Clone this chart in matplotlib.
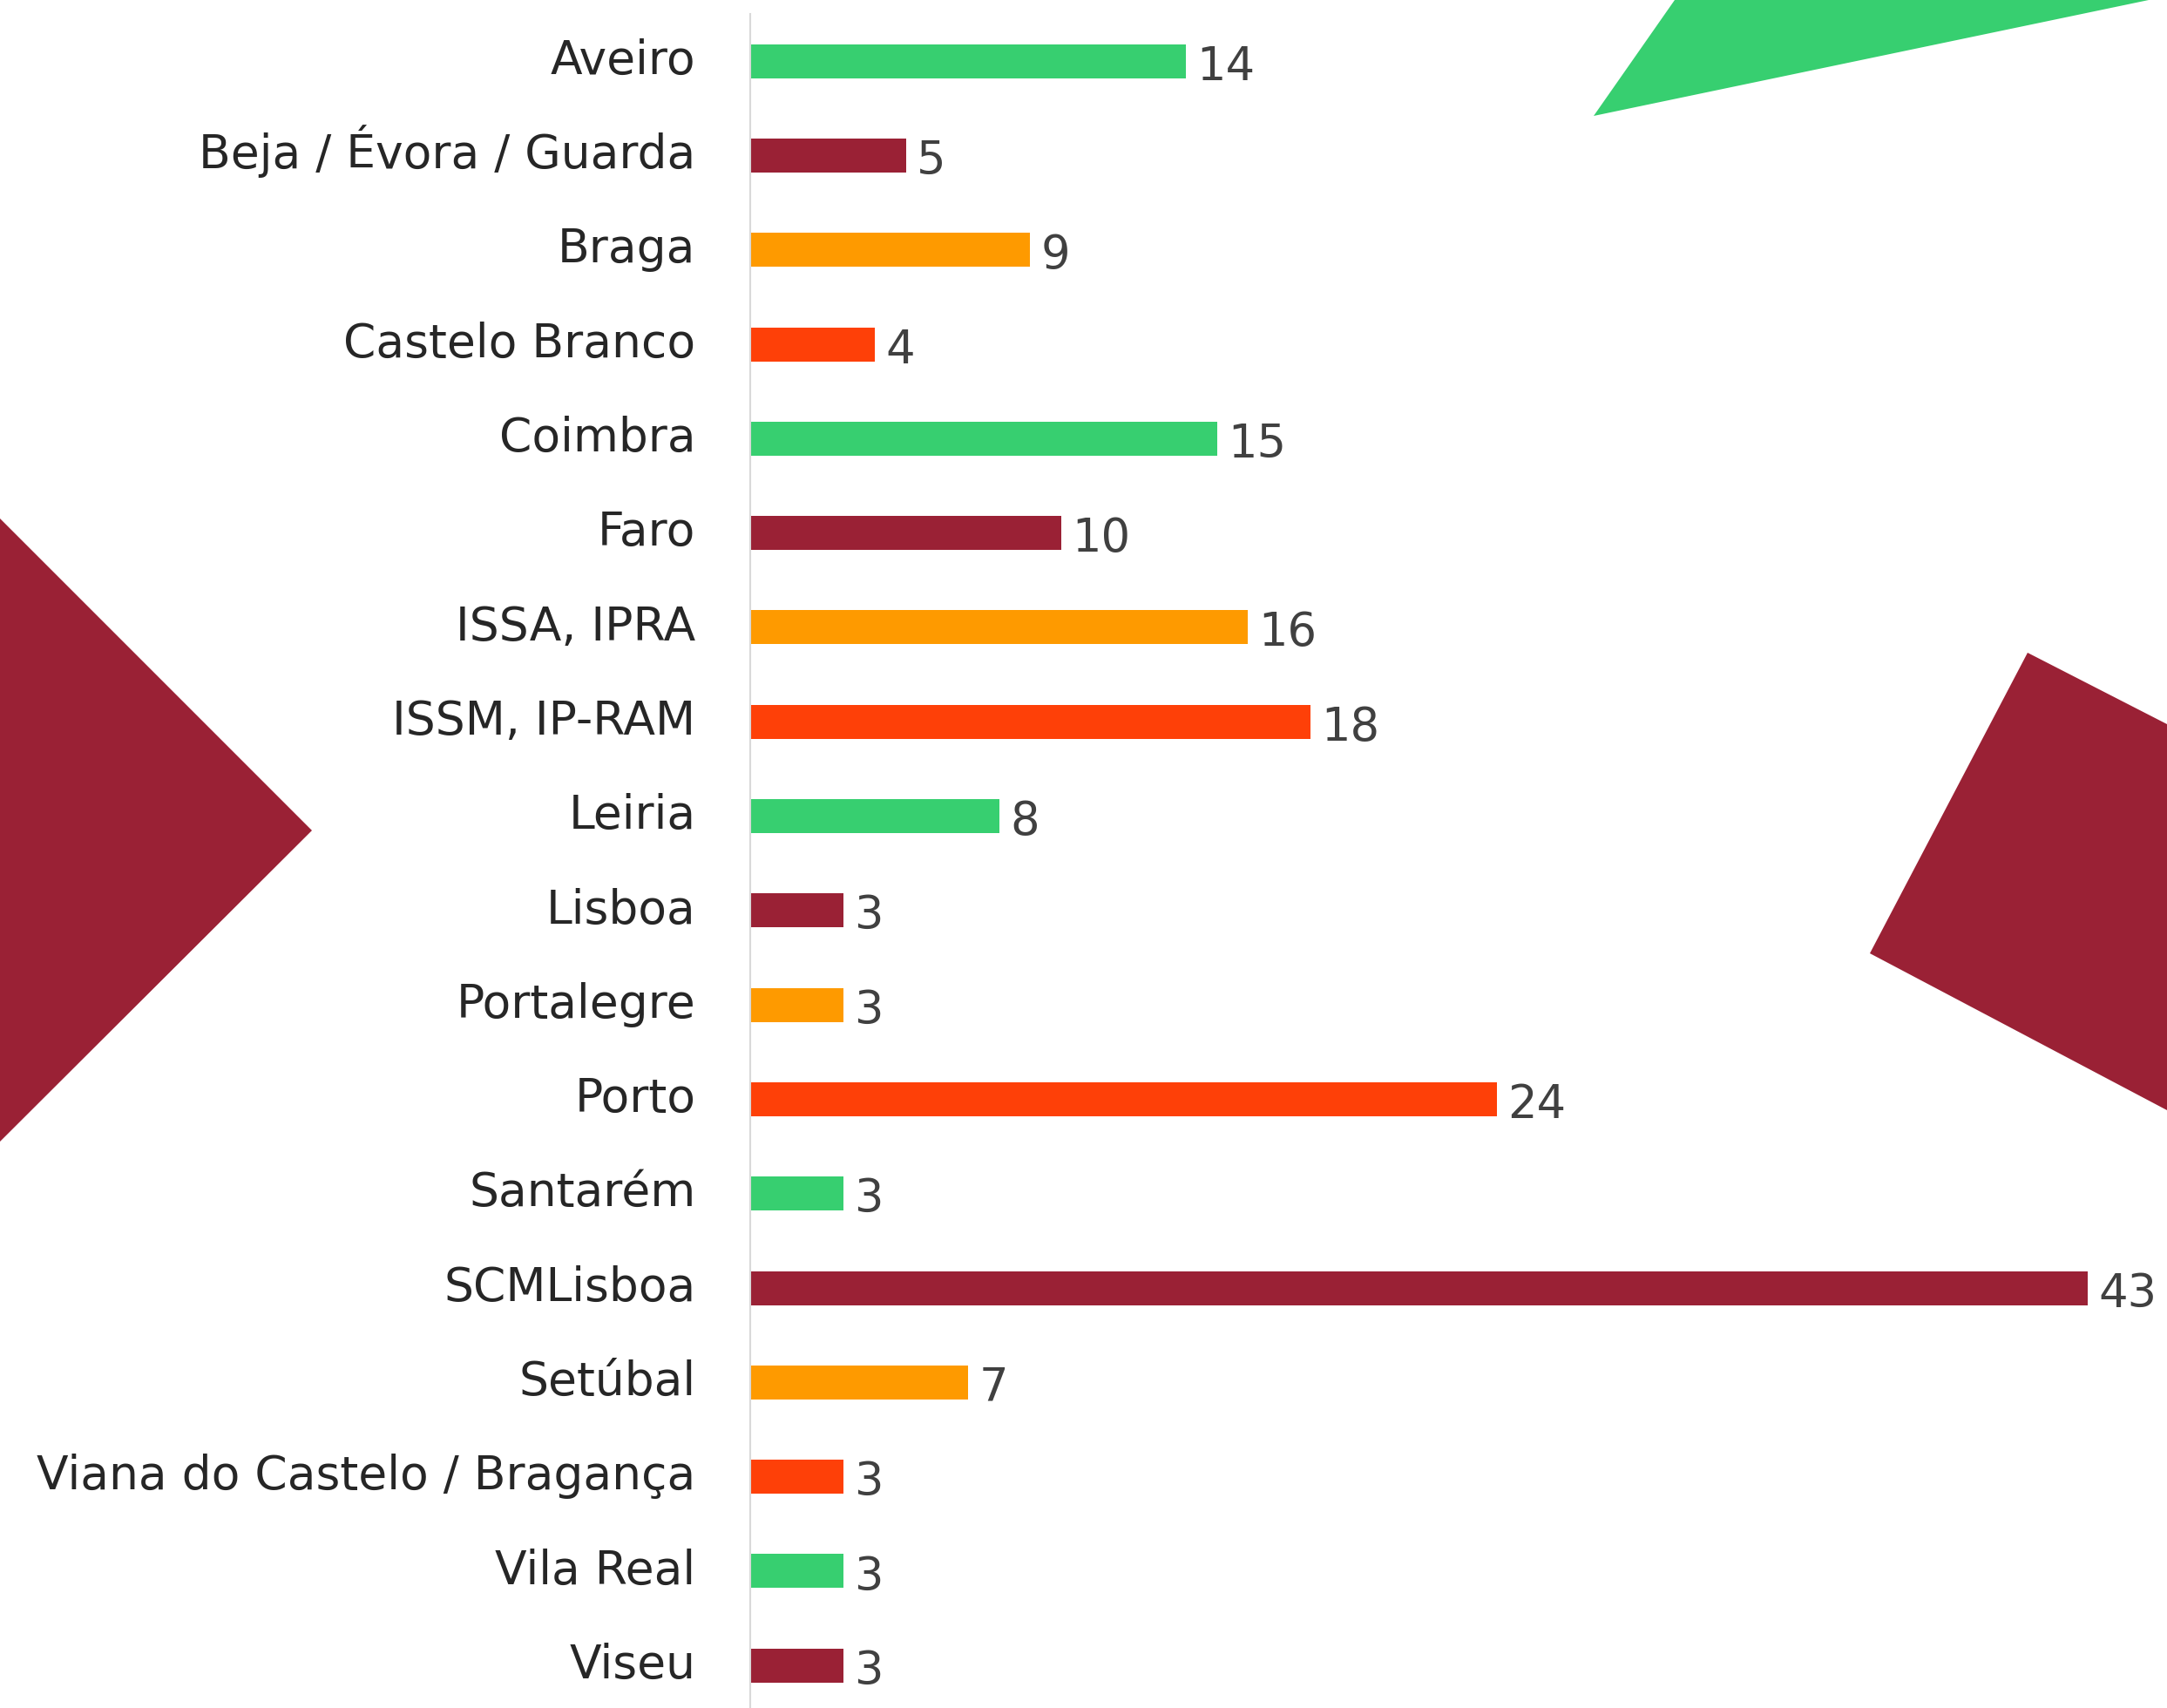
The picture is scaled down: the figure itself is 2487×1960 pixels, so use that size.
import matplotlib.pyplot as plt
from matplotlib.patches import Polygon

# --- data ---
categories = ["Aveiro", "Beja / Évora / Guarda", "Braga", "Castelo Branco", "Coimbra",
              "Faro", "ISSA, IPRA", "ISSM, IP-RAM", "Leiria", "Lisboa", "Portalegre",
              "Porto", "Santarém", "SCMLisboa", "Setúbal",
              "Viana do Castelo / Bragança", "Vila Real", "Viseu"]
values = [14, 5, 9, 4, 15, 10, 16, 18, 8, 3, 3, 24, 3, 43, 7, 3, 3, 3]

GREEN = "#37CF70"
MAROON = "#9A2135"
ORANGE = "#FE9A00"
RED = "#FE4008"
palette = [GREEN, MAROON, ORANGE, RED]
colors = [palette[i % 4] for i in range(len(values))]

W, H = 2487, 1960
fig = plt.figure(figsize=(W / 100, H / 100), dpi=100)
fig.patch.set_facecolor("white")

# background decoration, in pixel coordinates
bg = fig.add_axes([0, 0, 1, 1])
bg.set_xlim(0, W)
bg.set_ylim(H, 0)
bg.axis("off")
bg.add_patch(Polygon([(1829, 133), (1922, 0), (2466, 0)], closed=True, color=GREEN, lw=0))
bg.add_patch(Polygon([(0, 595), (358, 953), (0, 1310)], closed=True, color=MAROON, lw=0))
bg.add_patch(Polygon([(2327, 749), (2487, 831), (2487, 1274), (2146, 1094)], closed=True, color=MAROON, lw=0))

# --- bar chart ---
ax = fig.add_axes([861 / W, 0, (45 * 35.7) / W, 1944 / H])
ax.patch.set_alpha(0)
y = list(range(len(values)))
ax.barh(y, values, height=0.36, color=colors)
ax.set_xlim(0, 45)
ax.set_ylim(17.45, -0.5)

for i, (cat, v) in enumerate(zip(categories, values)):
    # category label, right aligned left of the axis line
    ax.annotate(cat, (0, i), xytext=(-45, -10.5), textcoords="offset points",
                va="baseline", ha="right", fontsize=38.5, color="#262626",
                family="DejaVu Sans", annotation_clip=False)
    # value label
    ax.annotate(str(v), (v, i), xytext=(9, -15.5), textcoords="offset points",
                va="baseline", ha="left", fontsize=38, color="#404040",
                family="DejaVu Sans", annotation_clip=False)

ax.set_yticks([])
ax.set_xticks([])
for s in ["top", "right", "bottom"]:
    ax.spines[s].set_visible(False)
ax.spines["left"].set_color("#d9d9d9")
ax.spines["left"].set_linewidth(1.5)

fig.savefig("out.png", dpi=100)
